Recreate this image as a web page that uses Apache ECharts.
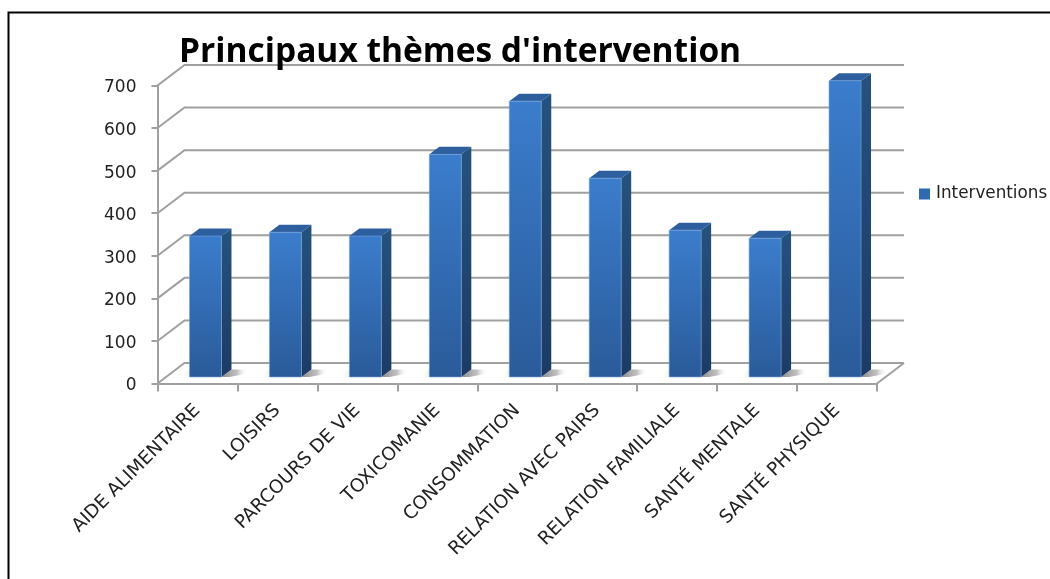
<!DOCTYPE html>
<html><head><meta charset="utf-8">
<style>html,body{margin:0;padding:0;background:#fff}#c{width:1050px;height:579px}</style>
<script src="https://cdn.jsdelivr.net/npm/echarts@6/dist/echarts.min.js"></script>
</head><body><div id="c"></div>
<script>
const categories = ['AIDE ALIMENTAIRE','LOISIRS','PARCOURS DE VIE','TOXICOMANIE','CONSOMMATION','RELATION AVEC PAIRS','RELATION FAMILIALE','SANTÉ MENTALE','SANTÉ PHYSIQUE'];
const interventions = [331,340,331,523,648,467,345,326,696];
const yTicks = [0,100,200,300,400,500,600,700];
const TITLE_FONT = '"Open Sans"', FONT = '"DejaVu Sans"';
const WALL = [27,-20.5], NEAR = [8,-6.5], DEPTH = [10,-7.5], BARW = 32;
const GRID = '#a0a0a0';
const grad = (a,b) => new echarts.graphic.LinearGradient(0,0,0,1,[{offset:0,color:a},{offset:1,color:b}]);
const chart = echarts.init(document.getElementById('c'),null,{renderer:'canvas'});
function renderWall(params,api){
  const v = api.value(0);
  const band = api.size([1,0])[0];
  const p = api.coord([0,v]);
  const x0 = p[0]-band/2, x1 = x0+band*categories.length, y=p[1];
  const style = {stroke:GRID,lineWidth:2,fill:null};
  const kids = [
    {type:'polyline',shape:{points:[[x0,y],[x0+WALL[0],y+WALL[1]],[x1+WALL[0],y+WALL[1]]]},style},
  ];
  if(v===0) kids.push({type:'line',shape:{x1:x1,y1:y,x2:x1+WALL[0],y2:y+WALL[1]},style});
  return {type:'group',children:kids};
}
function renderBar(params,api){
  const p0 = api.coord([api.value(0),0]), p1 = api.coord([api.value(0),api.value(1)]);
  const x = p0[0]-BARW/2+NEAR[0], yb = p0[1]+NEAR[1], yt = p1[1]+NEAR[1], xr = x+BARW;
  const dx=DEPTH[0], dy=DEPTH[1];
  const shR = new echarts.graphic.LinearGradient(0,0,1,0,[{offset:0,color:'rgba(110,110,110,.8)'},{offset:.6,color:'rgba(150,150,150,.6)'},{offset:1,color:'rgba(255,255,255,0)'}]);
  const shL = new echarts.graphic.LinearGradient(0,0,1,0,[{offset:0,color:'rgba(255,255,255,0)'},{offset:1,color:'rgba(190,190,190,.35)'}]);
  return {type:'group',children:[
    {type:'polygon',shape:{points:[[xr,yb],[xr+dx,yb+dy],[xr+dx+16,yb+dy],[xr+24,yb-3],[xr+8,yb]]},style:{fill:shR}},
    {type:'polygon',shape:{points:[[x-9,yb-4],[x+2,yb-8],[x+2,yb],[x-3,yb]]},style:{fill:shL}},
    {type:'polygon',shape:{points:[[xr,yt],[xr+dx,yt+dy],[xr+dx,yb+dy],[xr,yb]]},style:{fill:grad('#25527f','#1b3b66')}},
    {type:'polygon',shape:{points:[[x,yt],[x+dx,yt+dy],[xr+dx,yt+dy],[xr,yt]]},style:{fill:'#2d5f9f'}},
    {type:'rect',shape:{x:x,y:yt,width:BARW,height:yb-yt},style:{fill:grad('#3b7dcd','#2a5b99'),stroke:'rgba(120,165,215,.6)',lineWidth:1}}
  ]};
}
chart.setOption({
  animation:false,
  backgroundColor:'#fff',
  title:{text:"Principaux thèmes d'intervention",left:179,top:35,padding:0,textStyle:{fontFamily:TITLE_FONT,fontSize:33.5,fontWeight:'bold',color:'#000'}},
  legend:{show:true,left:919,top:185.5,padding:0,itemWidth:11,itemHeight:11,icon:'rect',data:['Interventions'],itemGap:0,
    textStyle:{fontFamily:FONT,fontSize:16.8,color:'#222',padding:[0,0,0,1]}},
  grid:{left:157.5,top:85.5,width:719.5,height:298},
  xAxis:{type:'category',data:categories,axisTick:{show:true,alignWithLabel:false,length:8,lineStyle:{color:GRID,width:2}},
    axisLine:{lineStyle:{color:GRID,width:2}},
    axisLabel:{rotate:45,interval:0,fontFamily:FONT,fontSize:18.5,color:'#222',margin:24}},
  yAxis:{type:'value',min:0,max:700,interval:100,splitLine:{show:false},
    axisLine:{show:true,lineStyle:{color:GRID,width:2}},
    axisTick:{show:true,length:6,lineStyle:{color:GRID,width:2}},
    axisLabel:{fontFamily:FONT,fontSize:17,color:'#222',margin:21,verticalAlign:'top',lineHeight:5}},
  graphic:[{type:'polyline',silent:true,shape:{points:[[8.5,580],[8.5,12.5],[1051,12.5]]},style:{stroke:'#000',lineWidth:2,fill:null}}],
  series:[
    {type:'custom',name:'wall',silent:true,renderItem:renderWall,data:yTicks.map(v=>[v]),encode:{y:0},clip:false,z:1},
    {type:'custom',name:'Interventions',renderItem:renderBar,data:interventions.map((v,i)=>[i,v]),encode:{x:0,y:1},clip:false,z:2,itemStyle:{color:'#2f69b0'}}
  ]
});
</script></body></html>
